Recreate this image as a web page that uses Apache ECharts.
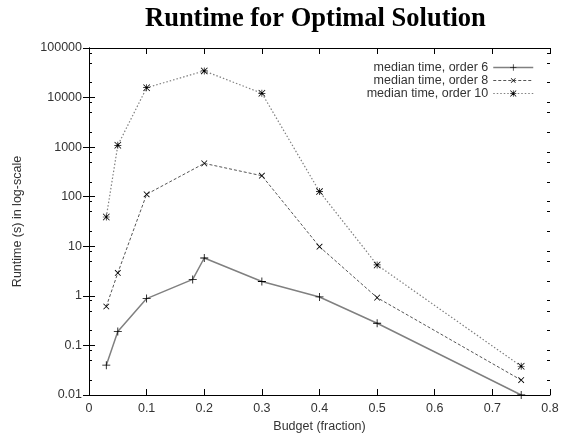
<!DOCTYPE html>
<html>
<head>
<meta charset="utf-8">
<script src="https://cdn.jsdelivr.net/npm/echarts@6/dist/echarts.min.js"></script>
<style>html,body{margin:0;padding:0;background:#fff}#c{width:568px;height:439px}</style>
</head>
<body>
<div id="c"></div>
<script>
const titleText = 'Runtime for Optimal Solution';
const xName = 'Budget (fraction)';
const yName = 'Runtime (s) in log-scale';
const seriesNames = ['median time, order 6', 'median time, order 8', 'median time, order 10'];
const budget6 = [0.03, 0.05, 0.1, 0.18, 0.2, 0.3, 0.4, 0.5, 0.75];
const runtime6 = [0.04, 0.19, 0.88, 2.15, 5.8, 1.95, 0.95, 0.28, 0.01];
const budget8 = [0.03, 0.05, 0.1, 0.2, 0.3, 0.4, 0.5, 0.75];
const runtime8 = [0.61, 2.9, 112, 470, 265, 9.8, 0.92, 0.02];
const budget10 = [0.03, 0.05, 0.1, 0.2, 0.3, 0.4, 0.5, 0.75];
const runtime10 = [39, 1090, 15800, 34500, 12200, 127, 4.2, 0.038];
const yTickLabels = ['0.01', '0.1', '1', '10', '100', '1000', '10000', '100000'];
const minorTickValues = [];
[0.01, 0.1, 1, 10, 100, 1000, 10000].forEach(d => [2, 5, 8].forEach(m => minorTickValues.push(+(d * m).toPrecision(3))));

const PLUS = 'path://M4.5,0H5.5V10H4.5Z M0,4.5H10V5.5H0Z';
const STAR = 'path://M4.5,0H5.5V10H4.5Z M0,4.5H10V5.5H0Z M0,0.8L0.8,0L10,9.2L9.2,10Z M9.2,0L10,0.8L0.8,10L0,9.2Z';
const zip = (xs, ys) => xs.map((x, i) => [x, ys[i]]);
const labelColor = '#333';
const font = 'Liberation Sans, Arial, sans-serif';
const fs = 12.5;

const fmtY = v => {
  const str = String(Number(Number(v).toPrecision(6)));
  return yTickLabels.includes(str) ? str : '';
};

const baseY = {
  type: 'log', logBase: 10, min: 0.01, max: 100000, splitNumber: 7,
  splitLine: { show: false }
};
const option = {
  animation: false,
  backgroundColor: '#fff',
  title: {
    text: titleText, left: 140, top: 1,
    textStyle: { fontFamily: 'Liberation Serif, Times New Roman, serif', fontWeight: 'bold', fontSize: 26.5, color: '#000' }
  },
  grid: { left: 89, right: 18, top: 48, bottom: 44 },
  legend: {
    orient: 'vertical', right: 29, top: 56, align: 'right', itemGap: 0,
    itemWidth: 40, itemHeight: 8,
    lineStyle: { width: 'inherit', type: 'inherit' },
    textStyle: { fontFamily: font, fontSize: fs, color: labelColor, lineHeight: 11 },
    data: seriesNames
  },
  xAxis: [{
    type: 'value', min: 0, max: 0.8, interval: 0.1, position: 'bottom',
    name: xName, nameLocation: 'middle', nameGap: 22,
    nameTextStyle: { fontFamily: font, fontSize: fs, color: labelColor },
    axisLine: { show: true, lineStyle: { color: '#000', width: 1 } },
    axisTick: { inside: true, length: 6, lineStyle: { color: '#000' } },
    axisLabel: { fontFamily: font, fontSize: fs, color: labelColor, margin: 7 },
    splitLine: { show: false }
  }, {
    type: 'value', min: 0, max: 0.8, interval: 0.1, position: 'top',
    axisLine: { show: true, onZero: false, lineStyle: { color: '#000', width: 1 } },
    axisTick: { inside: true, length: 6, lineStyle: { color: '#000' } },
    axisLabel: { show: false }, splitLine: { show: false }
  }],
  yAxis: [Object.assign({}, baseY, {
    position: 'left',
    name: yName, nameLocation: 'middle', nameGap: 65,
    nameTextStyle: { fontFamily: font, fontSize: fs, color: labelColor },
    axisLine: { show: true, lineStyle: { color: '#000', width: 1 } },
    axisTick: { inside: true, length: 6, lineStyle: { color: '#000' } },
    axisLabel: { fontFamily: font, fontSize: fs, color: labelColor, margin: 7, formatter: fmtY }
  }), Object.assign({}, baseY, {
    position: 'right',
    axisLine: { show: true, lineStyle: { color: '#000', width: 1 } },
    axisTick: { inside: true, length: 6, lineStyle: { color: '#000' } },
    axisLabel: { show: false }
  }), Object.assign({}, baseY, {
    position: 'left',
    axisLine: { show: false },
    axisTick: { inside: true, length: 3, customValues: minorTickValues, lineStyle: { color: '#000' } },
    axisLabel: { show: false }
  }), Object.assign({}, baseY, {
    position: 'right',
    axisLine: { show: false },
    axisTick: { inside: true, length: 3, customValues: minorTickValues, lineStyle: { color: '#000' } },
    axisLabel: { show: false }
  })],
  series: [{
    name: seriesNames[0], type: 'line', data: zip(budget6, runtime6),
    symbol: PLUS, symbolSize: 8, showAllSymbol: true,
    lineStyle: { color: '#808080', width: 1.5, type: 'solid' },
    itemStyle: { color: '#000' }
  }, {
    name: seriesNames[1], type: 'line', data: zip(budget8, runtime8),
    symbol: PLUS, symbolSize: 8, symbolRotate: 45, showAllSymbol: true,
    lineStyle: { color: '#555', width: 1, type: [3, 2] },
    itemStyle: { color: '#000' }
  }, {
    name: seriesNames[2], type: 'line', data: zip(budget10, runtime10),
    symbol: STAR, symbolSize: 7, showAllSymbol: true,
    lineStyle: { color: '#808080', width: 1.2, type: [1.5, 2] },
    itemStyle: { color: '#000' }
  }]
};
const chart = echarts.init(document.getElementById('c'), null, { renderer: 'canvas' });
chart.setOption(option);
</script>
</body>
</html>
